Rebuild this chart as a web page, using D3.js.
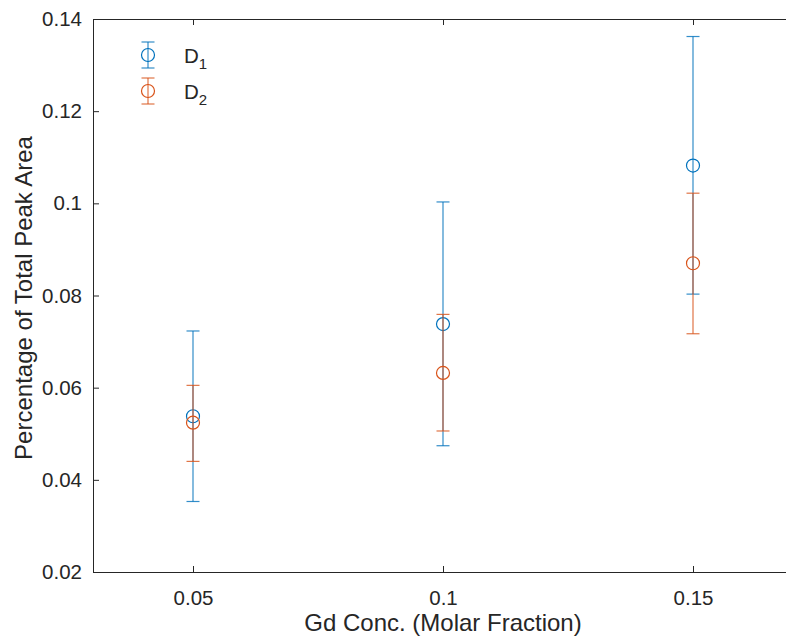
<!DOCTYPE html>
<html>
<head>
<meta charset="utf-8">
<script src="https://cdn.jsdelivr.net/npm/d3@7"></script>
<style>
  html, body { margin: 0; padding: 0; background: #fff; }
  svg { display: block; }
  text { font-family: "Liberation Sans", Arial, Helvetica, sans-serif; fill: #262626; }
</style>
</head>
<body>
<svg id="chart" width="786" height="639"></svg>
<script>
// Gd concentration (molar fraction)
const concentrations = [0.05, 0.1, 0.15];

// D1 site: mean and error bounds
const d1Mean  = [0.0538, 0.0738, 0.1082];
const d1Upper = [0.0723, 0.1003, 0.1362];
const d1Lower = [0.0353, 0.0474, 0.0803];

// D2 site: mean and error bounds
const d2Mean  = [0.0524, 0.0632, 0.0870];
const d2Upper = [0.0605, 0.0759, 0.1022];
const d2Lower = [0.0440, 0.0506, 0.0717];

const xTicks = [0.05, 0.1, 0.15];
const yTicks = [0.02, 0.04, 0.06, 0.08, 0.1, 0.12, 0.14];

const seriesNames = ["1", "2"];
const seriesColors = ["#0072BD", "#D95319"];

const series = [
  { sub: seriesNames[0], color: seriesColors[0], mean: d1Mean, upper: d1Upper, lower: d1Lower },
  { sub: seriesNames[1], color: seriesColors[1], mean: d2Mean, upper: d2Upper, lower: d2Lower }
];

const svg = d3.select("#chart");
const plotLeft = 93, plotRight = 793, plotTop = 19, plotBottom = 572;

const x = d3.scaleLinear().domain([0.03, 0.17]).range([plotLeft, plotRight]);
const y = d3.scaleLinear().domain([0.02, 0.14]).range([plotBottom, plotTop]);

const axisColor = "#262626";
const fmt = d => String(+d.toFixed(2));

// Axes (box style: bottom/left with labels, top tick marks)
const gx = svg.append("g").attr("transform", `translate(0,${plotBottom})`)
  .call(d3.axisBottom(x).tickValues(xTicks).tickFormat(fmt).tickSize(-6).tickSizeOuter(0).tickPadding(18));
const gxTop = svg.append("g").attr("transform", `translate(0,${plotTop})`)
  .call(d3.axisTop(x).tickValues(xTicks).tickFormat("").tickSize(-6).tickSizeOuter(0));
const gy = svg.append("g").attr("transform", `translate(${plotLeft},0)`)
  .call(d3.axisLeft(y).tickValues(yTicks).tickFormat(fmt).tickSize(-6).tickSizeOuter(0).tickPadding(11));

[gx, gxTop, gy].forEach(g => {
  g.select(".domain").attr("stroke", axisColor).attr("stroke-width", 1);
  g.selectAll(".tick line").attr("stroke", axisColor).attr("stroke-width", 1);
  g.selectAll(".tick text").style("font-size", "20.5px").attr("fill", axisColor);
});

// Axis titles
svg.append("text")
  .attr("x", (plotLeft + plotRight) / 2).attr("y", 631)
  .attr("text-anchor", "middle").style("font-size", "24px")
  .text("Gd Conc. (Molar Fraction)");

svg.append("text")
  .attr("transform", `translate(32,298) rotate(-90)`)
  .attr("text-anchor", "middle").style("font-size", "24px")
  .text("Percentage of Total Peak Area");

// Error bars with circle markers
const cap = 6.5, r = 6.5;
series.forEach(s => {
  const g = svg.append("g");
  concentrations.forEach((c, i) => {
    const cx = x(c);
    g.append("line").attr("x1", cx).attr("x2", cx)
      .attr("y1", y(s.lower[i])).attr("y2", y(s.upper[i]))
      .attr("stroke", s.color).attr("stroke-width", 1.2).attr("opacity", 0.8);
    [s.lower[i], s.upper[i]].forEach(v => {
      g.append("line").attr("x1", cx - cap).attr("x2", cx + cap)
        .attr("y1", y(v)).attr("y2", y(v))
        .attr("stroke", s.color).attr("stroke-width", 1.2).attr("opacity", 0.8);
    });
    g.append("circle").attr("cx", cx).attr("cy", y(s.mean[i])).attr("r", r)
      .attr("fill", "none").attr("stroke", s.color).attr("stroke-width", 1.2);
  });
});

// Legend
const legend = svg.append("g");
series.forEach((s, i) => {
  const ly = 55 + i * 36, lx = 148;
  const g = legend.append("g");
  g.append("line").attr("x1", lx).attr("x2", lx).attr("y1", ly - 13).attr("y2", ly + 13)
    .attr("stroke", s.color).attr("stroke-width", 1.2).attr("opacity", 0.8);
  [ly - 13, ly + 13].forEach(v => {
    g.append("line").attr("x1", lx - 6.5).attr("x2", lx + 6.5).attr("y1", v).attr("y2", v)
      .attr("stroke", s.color).attr("stroke-width", 1.2).attr("opacity", 0.8);
  });
  g.append("circle").attr("cx", lx).attr("cy", ly).attr("r", r)
    .attr("fill", "none").attr("stroke", s.color).attr("stroke-width", 1.2);
  const t = g.append("text").attr("x", 184).attr("y", ly + 8).style("font-size", "20.5px");
  t.append("tspan").text("D");
  t.append("tspan").attr("dy", 6).style("font-size", "15px").text(s.sub);
});
</script>
</body>
</html>
